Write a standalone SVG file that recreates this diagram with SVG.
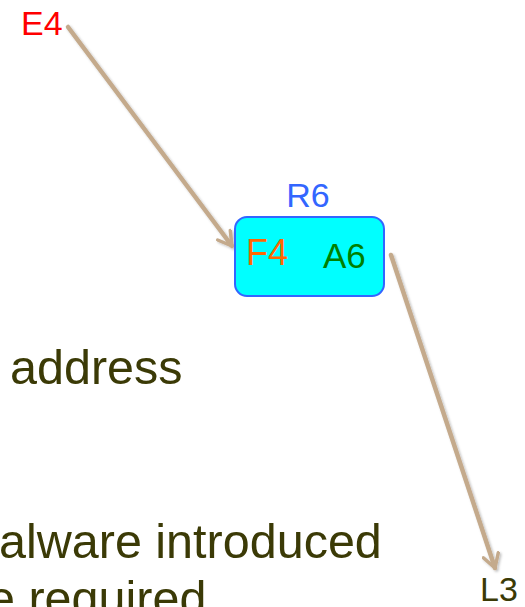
<svg xmlns="http://www.w3.org/2000/svg" width="525" height="607" viewBox="0 0 525 607">
  <style>
    text { font-family: "Liberation Sans", Arial, sans-serif; }
    .body { font-size: 48.5px; fill: #3b3a06; }
    .lbl { font-size: 34px; }
    .conn { fill: none; stroke: #c4aa8c; stroke-width: 4.5; stroke-linecap: round; stroke-linejoin: round; filter: url(#shadow); }
    .node-box { fill: #00ffff; stroke: #3366ff; stroke-width: 2; }
  </style>
  <defs>
    <filter id="shadow" x="-20%" y="-20%" width="140%" height="140%">
      <feDropShadow dx="1.5" dy="1.5" stdDeviation="1.2" flood-color="#000" flood-opacity="0.25"/>
    </filter>
    <marker id="arrow" viewBox="0 0 12 12" refX="10" refY="6" markerWidth="4.2" markerHeight="4.2" orient="auto" markerUnits="strokeWidth">
      <path d="M1.5,1 L10,6 L1.5,11" fill="none" stroke="#c4aa8c" stroke-width="2.2" stroke-linecap="round" stroke-linejoin="round"/>
    </marker>
  </defs>

  <!-- background text lines -->
  <g id="body-text">
    <text class="body" x="10" y="384">address</text>
    <text class="body" x="-1" y="558">alware introduced</text>
    <text class="body" x="-12" y="615">e required</text>
  </g>

  <!-- connectors -->
  <g id="connectors">
    <path class="conn" d="M68,27 L232,246" marker-end="url(#arrow)"/>
    <path class="conn" d="M391,255 L495,568" marker-end="url(#arrow)"/>
  </g>

  <g id="E4">
    <text class="lbl" x="21" y="35" fill="#ff0000">E4</text>
  </g>

  <g id="R6">
    <text class="lbl" x="308" y="207" fill="#3366ff" text-anchor="middle">R6</text>
    <rect class="node-box" x="235" y="217" width="149" height="79" rx="12"/>
    <text class="lbl" x="246" y="265" fill="#ff6600" style="font-size:36px">F4</text>
    <text class="lbl" x="323" y="268" fill="#008000" style="font-size:35px">A6</text>
  </g>

  <g id="L3">
    <text class="lbl" x="480" y="601" fill="#3b3a06">L3</text>
  </g>
</svg>
